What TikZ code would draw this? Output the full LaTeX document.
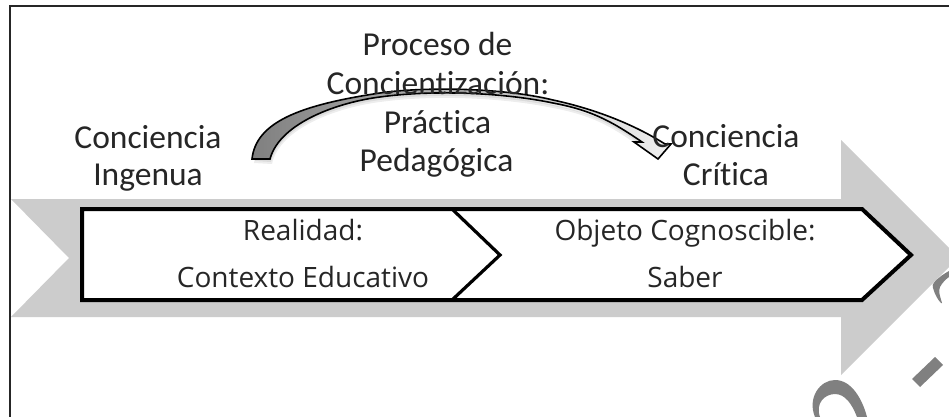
\documentclass[tikz,border=0pt]{standalone}
\usepackage{fontspec}
\setmainfont[Ligatures=NoCommon]{Carlito}
\newfontfamily\boxfont{Open Sans}
\definecolor{bandgray}{HTML}{CCCCCC}
\definecolor{markgray}{HTML}{808080}
\definecolor{txt}{HTML}{262626}
\tikzset{
  x=1pt,y=-1pt,
  bigtext/.style={font=\fontsize{33.5}{33.5}\selectfont,text=txt,inner sep=0pt,anchor=base},
  boxtext/.style={font=\boxfont\fontsize{28}{28}\selectfont,text=txt,inner sep=0pt,anchor=base},
  band/.style={fill=bandgray,draw=none},
  chev/.style={draw=black,line width=4pt,line join=miter},
  markshape/.style={fill=markgray,draw=none},
}
\begin{document}
\begin{tikzpicture}
\useasboundingbox (0,0) rectangle (949,417);
\begin{scope}
\clip (0,0) rectangle (949,417);
\fill[white] (0,0) rectangle (949,417);
% border
\draw[line width=2pt,color=black!85] (9.5,417) -- (9.5,6.5) -- (949,6.5);
% band arrow
\fill[band] (11,199) -- (841,199) -- (841,140) -- (958.5,257.5) -- (841,375) -- (841,317) -- (11,317) -- (69,258) -- cycle;
% marks
\fill[markshape] (935,357) -- (943,365) -- (920,387) -- (912,379) -- cycle;
\fill[markshape] (815,417) .. controls (807,398) and (820,380) .. (835,380) .. controls (851,380) and (862,398) .. (867,417) -- (857,417) .. controls (852,404) and (845,394) .. (835,394) .. controls (825,394) and (815,403) .. (820,417) -- cycle;
\fill[markshape] (949,271) .. controls (938,277) and (930,285) .. (933,288) .. controls (935,295) and (938,300) .. (941,303) -- (942,303) .. controls (940,296) and (938,291) .. (940,287) .. controls (942,283) and (946,279) .. (949,277) -- cycle;
% chevrons
\fill[white] (82,209) -- (862,209) -- (911,255) -- (862,300) -- (82,300) -- cycle;
\draw[chev] (82,209) -- (862,209) -- (911,255) -- (862,300) -- (82,300) -- cycle;
\draw[draw=black,line width=3.2pt] (452,209) -- (500,255) -- (452,300);
\end{scope}
% curved arrow shadow
\path[fill=black,opacity=0.07] (254,163) .. controls (258,126) and (300,109) .. (380,98) .. controls (420,92) and (500,92) .. (553,105) .. controls (590,113) and (630,127) .. (660,152) -- (640,147) .. controls (610,125) and (590,115) .. (553,108) .. controls (500,97) and (430,95) .. (380,102) .. controls (340,107) and (280,127) .. (272,164) -- cycle;
\path[fill=black,opacity=0.07] (255,161) .. controls (258,124) and (300,107) .. (380,96) .. controls (420,90) and (500,90) .. (553,103) .. controls (590,111) and (630,125) .. (660,150) -- (642,145) .. controls (610,123) and (590,113) .. (553,106) .. controls (500,95) and (430,93) .. (380,100) .. controls (340,105) and (280,125) .. (271,162) -- cycle;
% curved arrow
\shade[left color=black!50,right color=black!6,draw=black,line width=1.6pt,line join=miter]
  (252,159) .. controls (256,122) and (300,105) .. (380,93) .. controls (420,87) and (500,87) .. (553,100) .. controls (590,108) and (630,122) .. (665,144)
  -- (671,144) -- (658,159) -- (634,142) -- (642,142)
  .. controls (610,120) and (590,110) .. (553,103) .. controls (500,92) and (430,90) .. (380,97) .. controls (340,102) and (280,122) .. (270,159) -- cycle;
% texts
\node[bigtext] (t1) at (437.5,56) {Proceso de};
\node[bigtext] (t2) at (438,95) {Concientización:};
\node[bigtext] (t3) at (437.5,133) {Práctica};
\node[bigtext] (t4) at (436.5,171) {Pedagógica};
\node[bigtext] (t5) at (148,148) {Conciencia};
\node[bigtext] (t6) at (148,185) {Ingenua};
\node[bigtext] (t7) at (726,147) {Conciencia};
\node[bigtext] (t8) at (726,185) {Crítica};
\node[boxtext] (b1) at (303,240) {Realidad:};
\node[boxtext] (b2) at (303,287) {Contexto Educativo};
\node[boxtext] (b3) at (685,240) {Objeto Cognoscible:};
\node[boxtext] (b4) at (685,287) {Saber};
\end{tikzpicture}
\end{document}
